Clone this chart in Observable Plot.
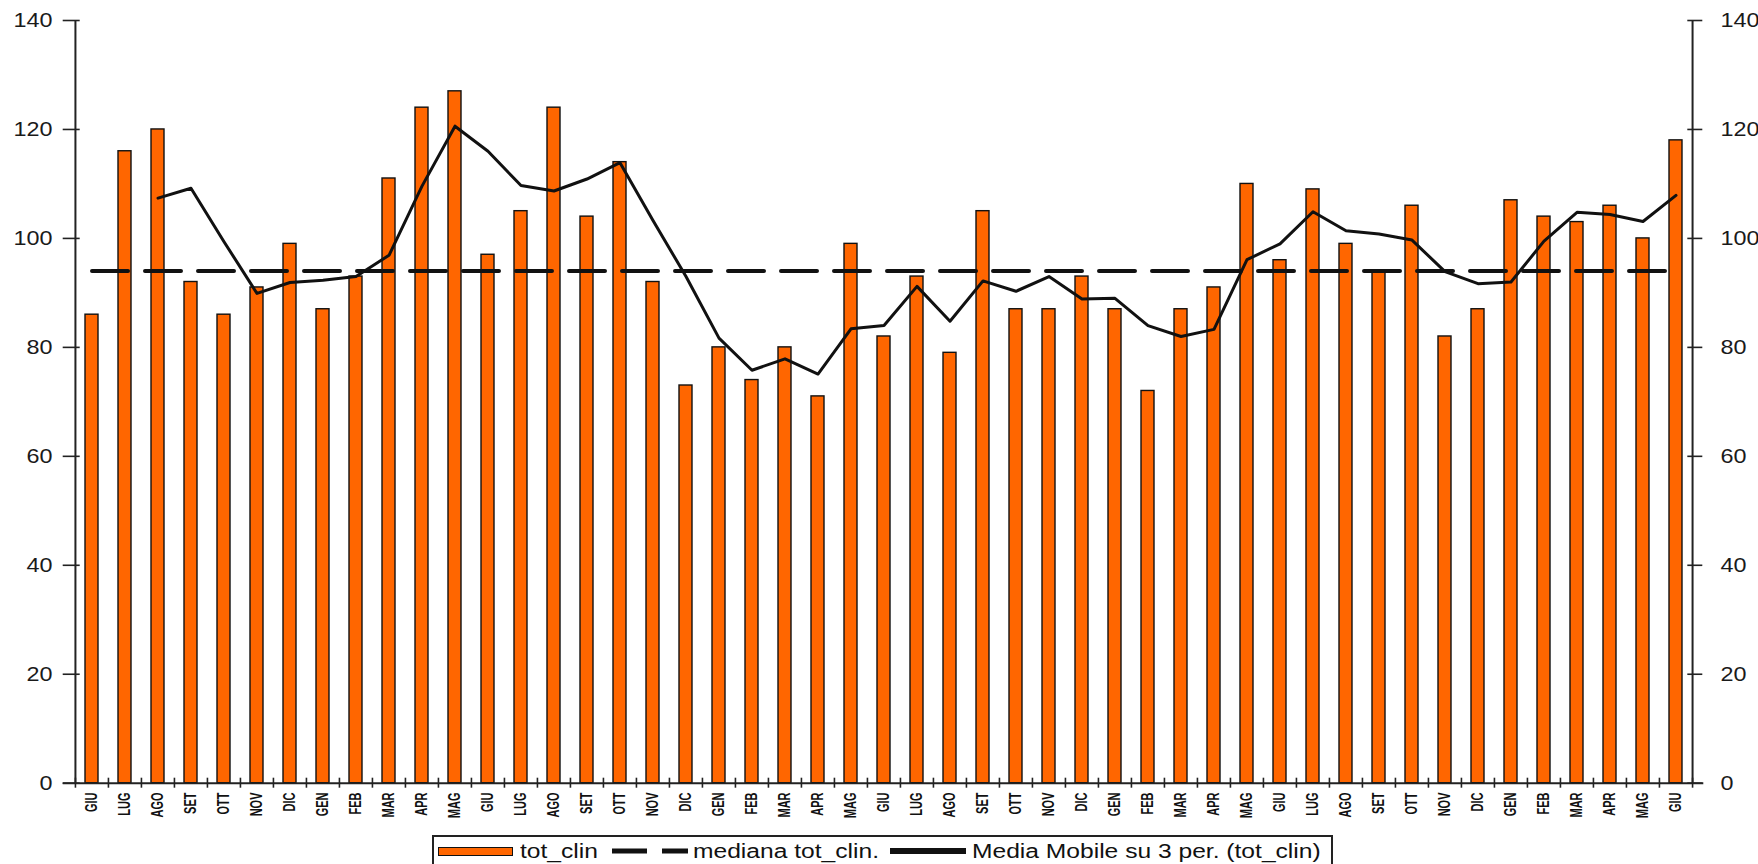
<!DOCTYPE html>
<html>
<head>
<meta charset="utf-8">
<script src="https://cdn.jsdelivr.net/npm/d3@7"></script>
<script src="https://cdn.jsdelivr.net/npm/@observablehq/plot@0.6"></script>
<style>
  html, body { margin: 0; padding: 0; background: #fff; width: 1758px; height: 864px; overflow: hidden; }
  #chart { position: absolute; left: 0; top: 0; }
  #legend { position: absolute; left: 432px; top: 835px; width: 901px; height: 44px; border: 2px solid #222; box-sizing: border-box; background: #fff; font-family: 'Liberation Sans', Arial, sans-serif; color: #111; }
  #legend .t { position: absolute; top: 4px; font-size: 20px; line-height: 20px; white-space: nowrap; transform: scaleX(1.23); transform-origin: 0 50%; }
  #legend .sw { position: absolute; left: 4px; top: 10px; width: 75px; height: 9px; background: #FF6600; border: 1.5px solid #111; box-sizing: border-box; }
  #legend svg { position: absolute; }
</style>
</head>
<body>
<div id="chart"></div>
<div id="legend">
  <div class="sw"></div>
  <div class="t" style="left:86px">tot_clin</div>
  <svg style="left:178px; top:9px" width="76" height="10"><line x1="0" y1="5" x2="76" y2="5" stroke="#111" stroke-width="5" stroke-dasharray="35,15"></line></svg>
  <div class="t" style="left:259px">mediana tot_clin.</div>
  <svg style="left:456px; top:9px" width="76" height="10"><line x1="0" y1="5" x2="76" y2="5" stroke="#111" stroke-width="6"></line></svg>
  <div class="t" style="left:538px">Media Mobile su 3 per. (tot_clin)</div>
</div>
<script>
// ---- data ----
const months = [
  "GIU","LUG","AGO","SET","OTT","NOV","DIC","GEN","FEB","MAR","APR","MAG",
  "GIU","LUG","AGO","SET","OTT","NOV","DIC","GEN","FEB","MAR","APR","MAG",
  "GIU","LUG","AGO","SET","OTT","NOV","DIC","GEN","FEB","MAR","APR","MAG",
  "GIU","LUG","AGO","SET","OTT","NOV","DIC","GEN","FEB","MAR","APR","MAG",
  "GIU"
];
const totClin = [
  86,116,120,92,86,91,99,87,93,111,124,127,
  97,105,124,104,114,92,73,80,74,80,71,99,
  82,93,79,105,87,87,93,87,72,87,91,110,
  96,109,99,94,106,82,87,107,104,103,106,100,
  118
];
const movingAvg3 = [
  null,null,107.4,109.2,99.4,89.9,91.9,92.3,93.0,96.9,109.6,120.6,
  116.0,109.7,108.7,110.9,113.9,103.3,93.0,81.7,75.8,77.9,75.1,83.4,
  84.0,91.2,84.8,92.2,90.3,93.0,88.9,89.0,84.0,82.0,83.3,96.1,
  99.0,104.9,101.4,100.8,99.7,93.9,91.7,92.0,99.5,104.8,104.4,103.1,
  107.9
];
const medianValue = 94;
const yTicks = [0,20,40,60,80,100,120,140];

// ---- layout ----
const W = 1758, H = 832;
const ML = 71.7, MR = 62.7, MT = 20, MB = 49.3;
const frameW = W - ML - MR, frameH = H - MT - MB;
const step = frameW / months.length;
const axisColor = "#222";

const rows = months.map((m, i) => ({i, month: m, value: totClin[i], ma: movingAvg3[i]}));
const first = rows[0], last = rows[rows.length - 1];

const plot = Plot.plot({
  width: W, height: H,
  marginLeft: ML, marginRight: MR, marginTop: MT, marginBottom: MB,
  style: {fontFamily: "'Liberation Sans', Arial, sans-serif", background: "#fff", color: "#111", overflow: "visible"},
  x: {type: "band", domain: rows.map(d => d.i), paddingInner: 0.62, paddingOuter: 0.31, label: null},
  y: {domain: [0, 140], label: null},
  marks: [
    Plot.barY(rows, {x: "i", y: "value", fill: "#FF6600", stroke: "#111", strokeWidth: 1.4}),
    Plot.lineY([first, last], {x: "i", y: () => medianValue, stroke: "#111", strokeWidth: 4, strokeDasharray: "36,17"}),
    Plot.lineY(rows.filter(d => d.ma != null), {x: "i", y: "ma", stroke: "#111", strokeWidth: 3, strokeLinejoin: "round"}),
    // axis lines
    Plot.ruleX([first], {x: "i", dx: -step / 2, stroke: axisColor, strokeWidth: 2}),
    Plot.ruleX([last], {x: "i", dx: step / 2, stroke: axisColor, strokeWidth: 2}),
    Plot.ruleY([0], {insetLeft: -9, insetRight: -8, stroke: axisColor, strokeWidth: 2}),
    // crossing tick marks
    Plot.tickX(rows, {x: "i", dx: -step / 2, insetTop: frameH - 5, insetBottom: -5, stroke: axisColor, strokeWidth: 1.6}),
    Plot.tickX([last], {x: "i", dx: step / 2, insetTop: frameH - 5, insetBottom: -5, stroke: axisColor, strokeWidth: 1.6}),
    Plot.tickY(yTicks, {y: d => d, insetLeft: -9, insetRight: frameW - 8, stroke: axisColor, strokeWidth: 1.6}),
    Plot.tickY(yTicks, {y: d => d, insetLeft: frameW - 8, insetRight: -7, stroke: axisColor, strokeWidth: 1.6}),
    // tick labels
    Plot.axisY({anchor: "left", ticks: yTicks, tickSize: 0, tickPadding: 19.7, fontSize: 20, fill: "#1a1a1a", label: null}),
    Plot.axisY({anchor: "right", ticks: yTicks, tickSize: 0, tickPadding: 24.7, fontSize: 20, fill: "#1a1a1a", label: null}),
    Plot.axisX({tickSize: 0, tickPadding: 9.3, tickRotate: -90, fontSize: 11, fontWeight: "bold", fill: "#111", label: null, tickFormat: i => months[i]})
  ]
});

document.getElementById("chart").appendChild(plot);

function stretch(el, sx, sy) {
  const t = el.getAttribute("transform");
  if (t) {
    el.setAttribute("transform", t + ` scale(${sx},${sy})`);
  } else {
    const x = +el.getAttribute("x") || 0, y = +el.getAttribute("y") || 0;
    el.removeAttribute("x"); el.removeAttribute("y");
    el.setAttribute("transform", `translate(${x},${y}) scale(${sx},${sy})`);
  }
}
const svg = d3.select(plot);
svg.selectAll('g[aria-label="x-axis tick label"] text').each(function() { stretch(this, 1, 1.45); });
svg.selectAll('g[aria-label="y-axis tick label"] text').each(function() { stretch(this, 1.17, 1); });
</script>
</body>
</html>
